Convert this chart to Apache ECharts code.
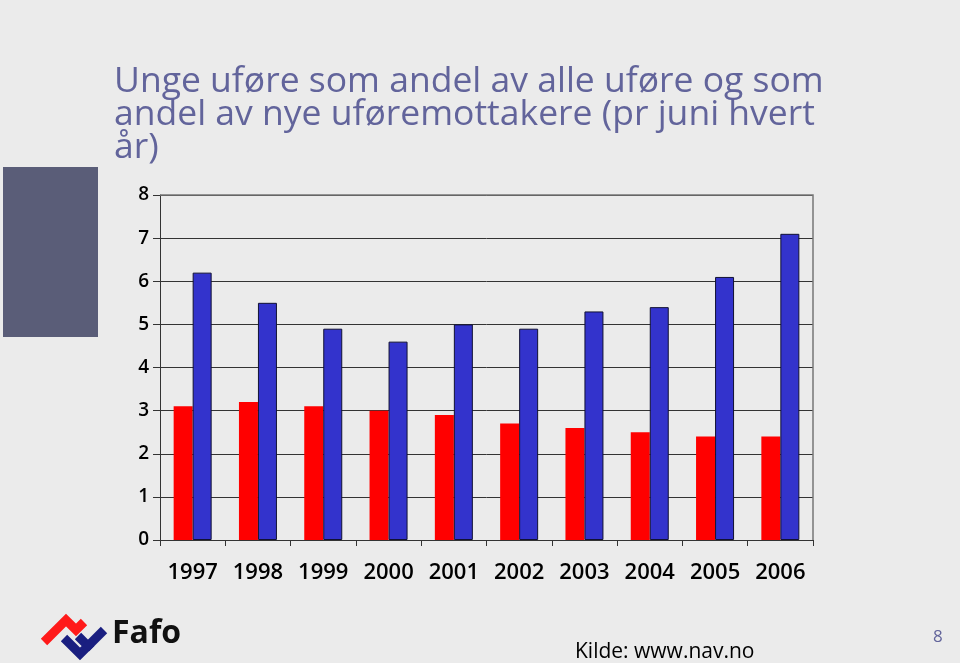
<!DOCTYPE html>
<html>
<head>
<meta charset="utf-8">
<script src="https://cdn.jsdelivr.net/npm/echarts@6/dist/echarts.min.js"></script>
<style>
  html, body { margin: 0; padding: 0; background: #ebebeb; }
  #chart { width: 960px; height: 663px; }
</style>
</head>
<body>
<div id="chart"></div>
<script>
const years = ['1997', '1998', '1999', '2000', '2001', '2002', '2003', '2004', '2005', '2006']
// andel av alle uføre (rød) og andel av nye uføremottakere (blå)
const alleUfore = [3.1, 3.2, 3.1, 3.0, 2.9, 2.7, 2.6, 2.5, 2.4, 2.4]
const nyeUfore = [6.2, 5.5, 4.9, 4.6, 5.0, 4.9, 5.3, 5.4, 6.1, 7.1]
const yTicks = [0, 1, 2, 3, 4, 5, 6, 7, 8]

const titleText = 'Unge uføre som andel av alle uføre og som\nandel av nye uføremottakere (pr juni hvert\når)'

const chart = echarts.init(document.getElementById('chart'))

const option = {
  backgroundColor: '#ebebeb',
  animation: false,
  textStyle: { fontFamily: 'Open Sans' },
  grid: {
    left: 160,
    right: 147,
    top: 195,
    bottom: 123,
  },
  xAxis: {
    type: 'category',
    data: years,
    axisLine: { lineStyle: { color: '#333', width: 1 } },
    axisTick: { show: true, length: 6, interval: 0, lineStyle: { color: '#333' } },
    axisLabel: { color: '#000', fontSize: 22, fontWeight: 600, margin: 22, interval: 0 },
    splitLine: { show: false },
  },
  yAxis: {
    type: 'value',
    min: yTicks[0],
    max: yTicks[yTicks.length - 1],
    interval: 1,
    axisLine: { show: true, lineStyle: { color: '#333', width: 1 } },
    axisTick: { show: true, length: 7, lineStyle: { color: '#333' } },
    axisLabel: { color: '#000', fontSize: 19, fontWeight: 600, margin: 11 },
    splitLine: { show: true, lineStyle: { color: '#333', width: 1 } },
  },
  series: [
    {
      name: 'alle uføre',
      type: 'bar',
      data: alleUfore,
      barWidth: 19,
      barGap: '0%',
      itemStyle: { color: '#ff0000' },
    },
    {
      name: 'nye uføremottakere',
      type: 'bar',
      data: nyeUfore,
      barWidth: 19,
      itemStyle: { color: '#3333cc', borderColor: '#111133', borderWidth: 1 },
    },
  ],
  graphic: [
    // plot frame (top and right)
    {
      type: 'polyline',
      shape: { points: [[160, 195], [813, 195], [813, 540]] },
      style: { stroke: '#777', lineWidth: 1.5, fill: null },
      z: 10,
    },
    // side block
    {
      type: 'rect',
      shape: { x: 3, y: 167, width: 95, height: 170 },
      style: { fill: '#5a5d78' },
    },
    {
      type: 'text',
      left: 114,
      top: 64,
      style: {
        text: titleText,
        fill: '#62649b',
        font: '35.5px "Open Sans"',
        lineHeight: 33,
      },
    },
    // Fafo logo
    {
      type: 'polyline',
      shape: { points: [[44, 642], [66, 620], [76, 630], [84, 622]] },
      style: { stroke: '#ff1a1a', lineWidth: 9, fill: null, lineJoin: 'miter' },
    },
    {
      type: 'polyline',
      shape: { points: [[64, 638], [80, 654], [88, 646], [78, 636]] },
      style: { stroke: '#1a1f80', lineWidth: 9, fill: null, lineJoin: 'miter' },
    },
    {
      type: 'polyline',
      shape: { points: [[86, 648], [104, 630]] },
      style: { stroke: '#1a1f80', lineWidth: 9, fill: null },
    },
    {
      type: 'text',
      left: 112,
      top: 618,
      style: { text: 'Fafo', fill: '#111', font: 'bold 32px "Open Sans"' },
    },
    {
      type: 'text',
      left: 575,
      top: 642,
      style: { text: 'Kilde: www.nav.no', fill: '#000', font: '21px "Open Sans"' },
    },
    {
      type: 'text',
      left: 933,
      top: 629,
      style: { text: '8', fill: '#62649b', font: '17px "Open Sans"' },
    },
  ],
}

chart.setOption(option)
</script>
</body>
</html>
